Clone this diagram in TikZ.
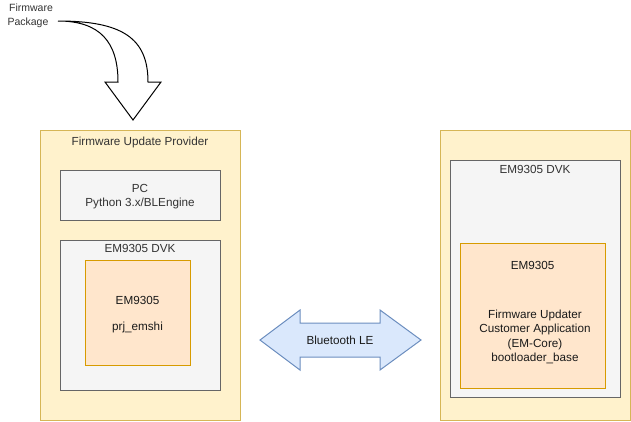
\documentclass[tikz,border=0pt]{standalone}
\usepackage{fontspec}
\setmainfont{Liberation Sans}
\definecolor{yfill}{HTML}{FFF2CC}
\definecolor{ydraw}{HTML}{D6B656}
\definecolor{gfill}{HTML}{F5F5F5}
\definecolor{gdraw}{HTML}{666666}
\definecolor{ofill}{HTML}{FFE6CC}
\definecolor{odraw}{HTML}{D79B00}
\definecolor{bfill}{HTML}{DAE8FC}
\definecolor{bdraw}{HTML}{6C8EBF}
\definecolor{txt}{HTML}{333333}
\definecolor{txtdark}{HTML}{1A1A1A}
\begin{document}
\begin{tikzpicture}[x=1pt,y=-1pt,
  boxbase/.style={line width=1pt, anchor=north west, inner sep=0pt, outer sep=0pt},
  ybox/.style={boxbase, draw=ydraw, fill=yfill},
  gbox/.style={boxbase, draw=gdraw, fill=gfill},
  obox/.style={boxbase, draw=odraw, fill=ofill},
  lbl/.style={anchor=base, inner sep=0pt, outer sep=0pt, text=txt, font=\fontsize{11.7}{14.4}\selectfont},
  dlbl/.style={lbl, text=txtdark},
  small/.style={lbl, font=\fontsize{10.5}{14}\selectfont}
]
\useasboundingbox (0,0) rectangle (631,421);

% Firmware package label and curved arrow
\node[small] (fwA) at (31,11.5) {Firmware};
\node[small] (fwB) at (28,25.5) {Package};
\coordinate (arrStart) at (58,21);
\coordinate (innerEnd) at (118,82);
\coordinate (outerEnd) at (148,82);
\coordinate (headR) at (161,82);
\coordinate (headL) at (105,82);
\coordinate (headTip) at (133,120);
\draw[line width=1pt, fill=white, line join=miter]
  (arrStart) .. controls (122,21) and (148,38) .. (outerEnd)
  -- (headR) -- (headTip) -- (headL) -- (innerEnd)
  .. controls (118,42) and (100,21) .. (arrStart) -- cycle;

% Left: Firmware Update Provider
\node[ybox, minimum width=200pt, minimum height=290pt] (fup) at (40,130) {};
\node[lbl] (fupT) at (140,145.5) {Firmware Update Provider};
\node[gbox, minimum width=160pt, minimum height=50pt] (pc) at (60,170) {};
\node[lbl] (pcA) at (140,192) {PC};
\node[lbl] (pcB) at (140,206.7) {Python 3.x/BLEngine};
\node[gbox, minimum width=160pt, minimum height=150pt] (dvkL) at (60,240) {};
\node[lbl] (dvkLT) at (140,252.2) {EM9305 DVK};
\node[obox, minimum width=105pt, minimum height=105pt] (emL) at (85,260) {};
\node[dlbl] (emLA) at (137.5,304) {EM9305};
\node[dlbl] (emLB) at (137.5,330.5) {prj\_emshi};

% Right: target
\node[ybox, minimum width=190pt, minimum height=290pt] (tgt) at (440,130) {};
\node[gbox, minimum width=170pt, minimum height=237pt] (dvkR) at (450,160) {};
\node[lbl] (dvkRT) at (535,173.2) {EM9305 DVK};
\node[obox, minimum width=145pt, minimum height=145pt] (emR) at (460,243) {};
\node[dlbl] (emRA) at (532.7,269.2) {EM9305};
\node[dlbl] (emRB) at (535,318.3) {Firmware Updater};
\node[dlbl] (emRC) at (535,332.7) {Customer Application};
\node[dlbl] (emRD) at (535,347.1) {(EM-Core)};
\node[dlbl] (emRE) at (535,361.5) {bootloader\_base};

% Bluetooth double arrow
\coordinate (btL) at (260,340);
\coordinate (btR) at (421,340);
\draw[line width=1pt, draw=bdraw, fill=bfill, line join=miter]
  (btL) -- (300,310) -- (300,323) -- (380,323) -- (380,310) -- (btR)
  -- (380,370) -- (380,357) -- (300,357) -- (300,370) -- cycle;
\node[dlbl] (btT) at (340,344.2) {Bluetooth LE};
\end{tikzpicture}
\end{document}
